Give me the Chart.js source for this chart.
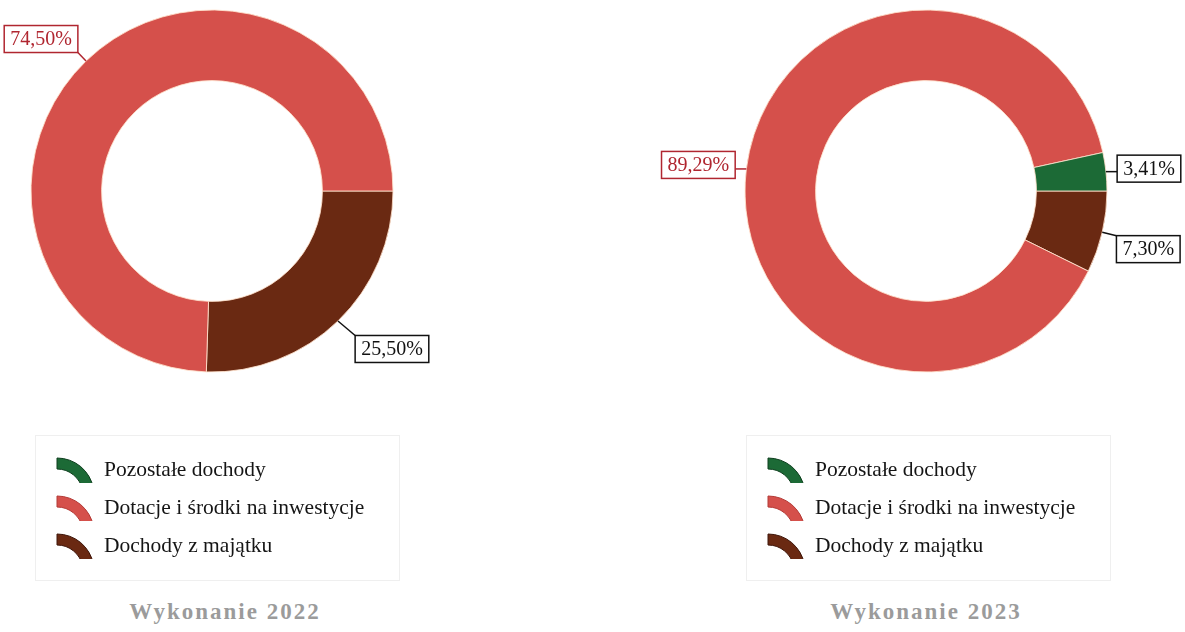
<!DOCTYPE html>
<html lang="pl">
<head>
<meta charset="utf-8">
<title>Struktura dochodów majątkowych</title>
<script src="https://cdn.jsdelivr.net/npm/chart.js@4/dist/chart.umd.min.js"></script>
<style>
  html, body { margin: 0; padding: 0; background: #fff; }
  body { width: 1185px; height: 632px; position: relative; overflow: hidden; font-family: "Liberation Serif", "DejaVu Serif", serif; }
  .donut { position: absolute; top: 0; }
  .legend { position: absolute; top: 435px; width: 365px; height: 146px; border: 1px solid #efefef; box-sizing: border-box; }
  .legend-item { position: absolute; left: 20px; height: 30px; display: flex; align-items: center; }
  .legend-item canvas { width: 40px; height: 28px; margin-right: 8px; }
  .legend-item span { font-size: 21.5px; color: #151515; white-space: nowrap; }
  .title { position: absolute; top: 599px; width: 300px; text-align: center; font-size: 23px; font-weight: bold; color: #9b9b9b; letter-spacing: 2px; }
</style>
</head>
<body>
<canvas id="donut2022" class="donut" style="left:0px" width="470" height="400"></canvas>
<canvas id="donut2023" class="donut" style="left:600px" width="585" height="400"></canvas>
<div id="legend2022" class="legend" style="left:35px"></div>
<div id="legend2023" class="legend" style="left:746px"></div>
<div id="title2022" class="title" style="left:75px"></div>
<div id="title2023" class="title" style="left:776px"></div>

<script>
const categories = ['Pozostałe dochody', 'Dotacje i środki na inwestycje', 'Dochody z majątku'];
const values2022 = [0, 74.50, 25.50];
const values2023 = [3.41, 89.29, 7.30];
const titles = ['Wykonanie 2022', 'Wykonanie 2023'];

const colors = ['#1c6a36', '#d5504b', '#6a2912'];
const edgeColors = ['#0f3f1f', '#b33a36', '#3e160a'];
const labelColors = ['#111111', '#b02630', '#111111'];

// where each value box sits, relative to the point on the outer edge of its slice
const boxOffsets2022 = [null, [-45, -22], [54, 28]];
const boxOffsets2023 = [[43, -3], [-48, -4], [46, 17]];

function formatPercent(v) {
  return v.toFixed(2).replace('.', ',') + '%';
}

// slices are drawn clockwise from 3 o'clock in reverse order,
// which puts the first category just above the 3 o'clock line
function reversed(arr) {
  return arr.slice().reverse();
}

const valueBoxes = {
  id: 'valueBoxes',
  afterDatasetsDraw(chart, args, opts) {
    const ctx = chart.ctx;
    const meta = chart.getDatasetMeta(0);
    const values = chart.data.datasets[0].data;
    const n = values.length;
    ctx.save();
    ctx.font = '20px "Liberation Serif", serif';
    ctx.textAlign = 'center';
    ctx.textBaseline = 'middle';
    meta.data.forEach((arc, i) => {
      const value = values[i];
      const idx = n - 1 - i;
      const offset = opts.offsets[idx];
      if (!value || !offset) return;
      const p = arc.getProps(['x', 'y', 'startAngle', 'endAngle', 'outerRadius'], true);
      const mid = (p.startAngle + p.endAngle) / 2;
      const ax = p.x + Math.cos(mid) * p.outerRadius;
      const ay = p.y + Math.sin(mid) * p.outerRadius;
      const text = formatPercent(value);
      const w = ctx.measureText(text).width + 12;
      const h = 27;
      const cx = ax + offset[0];
      const cy = ay + offset[1];
      const left = cx - w / 2, top = cy - h / 2;
      const ex = Math.min(Math.max(ax, left), left + w);
      const ey = Math.min(Math.max(ay, top), top + h);
      const col = labelColors[idx];

      ctx.strokeStyle = col;
      ctx.lineWidth = 1.5;
      ctx.beginPath();
      ctx.moveTo(ax, ay);
      ctx.lineTo(ex, ey);
      ctx.stroke();

      ctx.fillStyle = '#ffffff';
      ctx.fillRect(left, top, w, h);
      ctx.strokeRect(left, top, w, h);
      ctx.fillStyle = col;
      ctx.fillText(text, cx, cy + 1);
    });
    ctx.restore();
  }
};

function makeDonut(id, values, offsets, padding) {
  return new Chart(document.getElementById(id), {
    type: 'doughnut',
    data: {
      labels: reversed(categories),
      datasets: [{
        data: reversed(values),
        backgroundColor: reversed(colors),
        borderColor: 'rgba(255, 226, 205, 0.85)',
        borderWidth: ctx => (ctx.raw ? 1 : 0)
      }]
    },
    options: {
      responsive: false,
      animation: false,
      rotation: 90,
      radius: 181,
      cutout: '61%',
      layout: { padding: padding },
      events: [],
      plugins: {
        legend: { display: false },
        tooltip: { enabled: false },
        valueBoxes: { offsets: offsets }
      }
    },
    plugins: [valueBoxes]
  });
}

makeDonut('donut2022', values2022, boxOffsets2022, { left: 0, right: 46, top: 0, bottom: 18 });
makeDonut('donut2023', values2023, boxOffsets2023, { left: 67, right: 0, top: 0, bottom: 18 });

function drawIcon(canvas, fill, edge) {
  const ctx = canvas.getContext('2d');
  ctx.beginPath();
  ctx.arc(1, 40, 37, -Math.PI / 2, -0.18, false);
  ctx.arc(1, 40, 26, -0.18, -Math.PI / 2, true);
  ctx.closePath();
  ctx.fillStyle = fill;
  ctx.fill();
  ctx.strokeStyle = edge;
  ctx.lineWidth = 1;
  ctx.stroke();
}

function buildLegend(id) {
  const box = document.getElementById(id);
  categories.forEach((name, i) => {
    const item = document.createElement('div');
    item.className = 'legend-item';
    item.style.top = (18 + i * 38) + 'px';
    const icon = document.createElement('canvas');
    icon.width = 40;
    icon.height = 28;
    drawIcon(icon, colors[i], edgeColors[i]);
    const label = document.createElement('span');
    label.textContent = name;
    item.appendChild(icon);
    item.appendChild(label);
    box.appendChild(item);
  });
}

buildLegend('legend2022');
buildLegend('legend2023');
document.getElementById('title2022').textContent = titles[0];
document.getElementById('title2023').textContent = titles[1];
</script>
</body>
</html>
